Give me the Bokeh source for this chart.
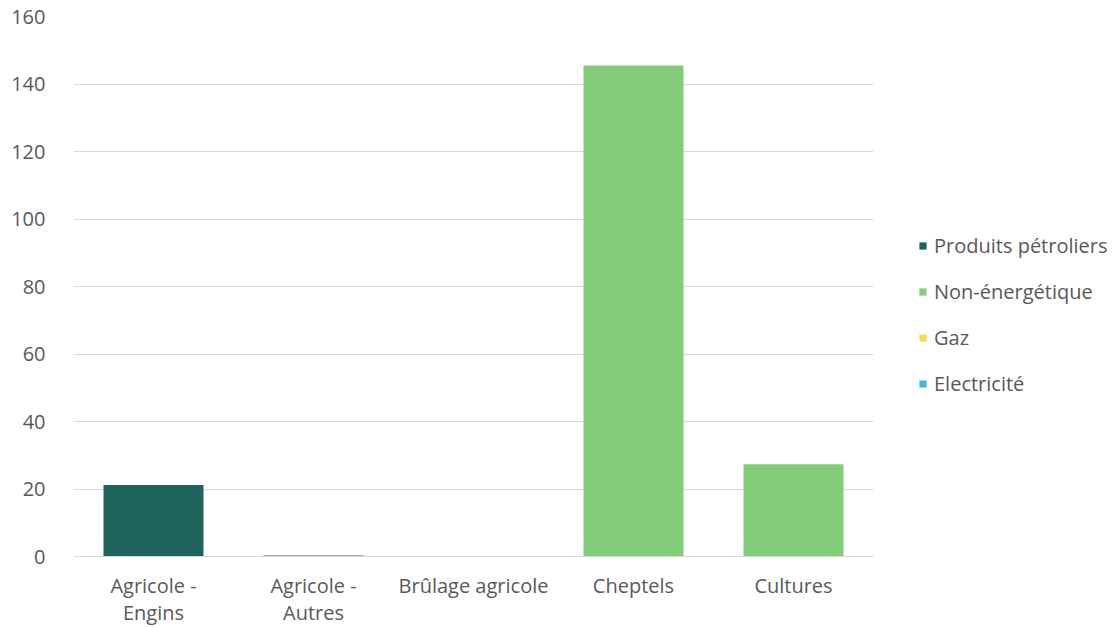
from bokeh.plotting import figure
from bokeh.models import FactorRange, Range1d, Legend, LegendItem, SingleIntervalTicker
from bokeh.embed import file_html
from bokeh.resources import INLINE

categories = ["Agricole -\nEngins", "Agricole -\nAutres", "Brûlage agricole", "Cheptels", "Cultures"]
series = ["Produits pétroliers", "Non-énergétique", "Gaz", "Electricité"]
produits_petroliers = [21.2, 0.3, 0.0, 0.0, 0.0]
non_energetique = [0.0, 0.0, 0.0, 145.5, 27.3]
gaz = [0.0, 0.0, 0.0, 0.0, 0.0]
electricite = [0.0, 0.0, 0.0, 0.0, 0.0]
colors = ["#1e645c", "#82cc7a", "#fddc47", "#3fb8ea"]
y_ticks_step = 20
y_max = 160

data = {"cat": categories, series[0]: produits_petroliers, series[1]: non_energetique,
        series[2]: gaz, series[3]: electricite}

FONT = "Open Sans"
TXT = "#595959"
FS = "20px"

p = figure(width=1117, height=628, x_range=FactorRange(*categories), y_range=Range1d(0, y_max),
           output_backend="svg", toolbar_location=None,
           min_border_left=73, min_border_right=244, min_border_top=16, min_border_bottom=72)
p.frame_width = 800
p.frame_height = 540

rs = p.vbar_stack(series, x="cat", width=0.625, color=colors, source=data, line_color=None)

p.outline_line_color = None
p.background_fill_color = "white"
p.border_fill_color = "white"

p.ygrid.grid_line_color = "#d9d9d9"
p.ygrid.grid_line_width = 1
p.xgrid.grid_line_color = None

p.yaxis.ticker = SingleIntervalTicker(interval=y_ticks_step)
p.yaxis.axis_line_color = None
p.yaxis.major_tick_line_color = None
p.yaxis.minor_tick_line_color = None
p.yaxis.major_label_standoff = 22
p.yaxis.major_label_text_font = FONT
p.yaxis.major_label_text_font_size = FS
p.yaxis.major_label_text_color = TXT

p.xaxis.axis_line_color = "#d9d9d9"
p.xaxis.axis_line_width = 1
p.xaxis.major_tick_line_color = None
p.xaxis.minor_tick_line_color = None
p.xaxis.major_label_standoff = 9
p.xaxis.major_label_text_font = FONT
p.xaxis.major_label_text_font_size = FS
p.xaxis.major_label_text_color = TXT
p.xaxis.major_label_text_line_height = 1.0

items = [LegendItem(label=s, renderers=[r]) for s, r in zip(series, rs)]
legend = Legend(items=items, location=(45, 159), orientation="vertical",
                glyph_width=9, glyph_height=9, label_standoff=7, spacing=19,
                padding=0, margin=0, border_line_color=None, background_fill_alpha=0,
                label_text_font=FONT, label_text_font_size=FS, label_text_color=TXT,
                label_height=20)
p.add_layout(legend, "right")

open("out.html", "w").write(file_html(p, INLINE))
